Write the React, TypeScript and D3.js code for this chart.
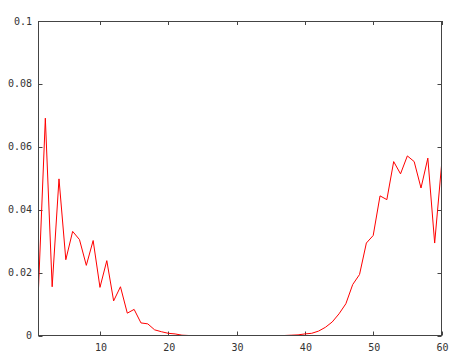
import React, { useEffect, useRef } from "react";
import * as d3 from "d3";

const xValues: number[] = d3.range(1, 61);
const yValues: number[] = [
  0.0151, 0.0691, 0.0155, 0.0498, 0.0241, 0.0331, 0.0305, 0.0223, 0.0302, 0.0153,
  0.0238, 0.011, 0.0155, 0.0071, 0.0083, 0.004, 0.0037, 0.0018, 0.0012, 0.0007,
  0.0005, 0.0001, 0, 0, 0, 0, 0, 0, 0, 0,
  0, 0, 0, 0, 0, 0, 0, 0.0001, 0.0002, 0.0005,
  0.0007, 0.0014, 0.0026, 0.0043, 0.0069, 0.0101, 0.0162, 0.0194, 0.0294, 0.0318,
  0.0444, 0.0432, 0.0553, 0.0514, 0.0571, 0.0553, 0.0469, 0.0564, 0.0294, 0.054,
];
const xTicks: number[] = [10, 20, 30, 40, 50, 60];
const yTicks: number[] = [0, 0.02, 0.04, 0.06, 0.08, 0.1];
const yTickLabels: string[] = ["0", "0.02", "0.04", "0.06", "0.08", "0.1"];

const W = 451;
const H = 352;
const L = 38.5, R = 441.5, T = 21, B = 335.5;

export default function App() {
  const ref = useRef<SVGSVGElement>(null);
  useEffect(() => {
    const svg = d3.select(ref.current);
    svg.selectAll("*").remove();
    const x = d3.scaleLinear().domain([1, 60]).range([L, R]);
    const y = d3.scaleLinear().domain([0, 0.1]).range([B, T]);
    const axisColor = "#444";
    const font = "'DejaVu Sans Mono', monospace";
    svg.append("rect").attr("width", W).attr("height", H).attr("fill", "#fff");

    const g = svg.append("g");
    // ticks
    xTicks.forEach((t) => {
      const px = Math.round(x(t)) + 0.5;
      g.append("line").attr("x1", px).attr("x2", px).attr("y1", B).attr("y2", B - 4).attr("stroke", axisColor);
      g.append("line").attr("x1", px).attr("x2", px).attr("y1", T).attr("y2", T + 4).attr("stroke", axisColor);
      g.append("text").attr("x", x(t) + 1).attr("y", 347.5).attr("text-anchor", "middle")
        .attr("dominant-baseline", "central").attr("font-family", font).attr("font-size", 10)
        .attr("fill", "#333").text(String(t));
    });
    yTicks.forEach((t, i) => {
      const py = Math.round(y(t)) + 0.5;
      g.append("line").attr("x1", L).attr("x2", L + 4).attr("y1", py).attr("y2", py).attr("stroke", axisColor);
      g.append("line").attr("x1", R).attr("x2", R - 4).attr("y1", py).attr("y2", py).attr("stroke", axisColor);
      g.append("text").attr("x", 32).attr("y", y(t)).attr("text-anchor", "end")
        .attr("dominant-baseline", "central").attr("font-family", font).attr("font-size", 10)
        .attr("fill", "#333").text(yTickLabels[i]);
    });

    const line = d3.line<number>().x((_, i) => x(xValues[i])).y((d) => y(d));
    svg.append("path").datum(yValues).attr("d", line).attr("fill", "none")
      .attr("stroke", "#ff0000").attr("stroke-width", 1);

    svg.append("rect").attr("x", L).attr("y", T + 0.5).attr("width", R - L).attr("height", B - T - 0.5)
      .attr("fill", "none").attr("stroke", axisColor);
  }, []);
  return (
    <svg ref={ref} width={W} height={H} style={{ position: "absolute", left: 0, top: 0 }} />
  );
}
